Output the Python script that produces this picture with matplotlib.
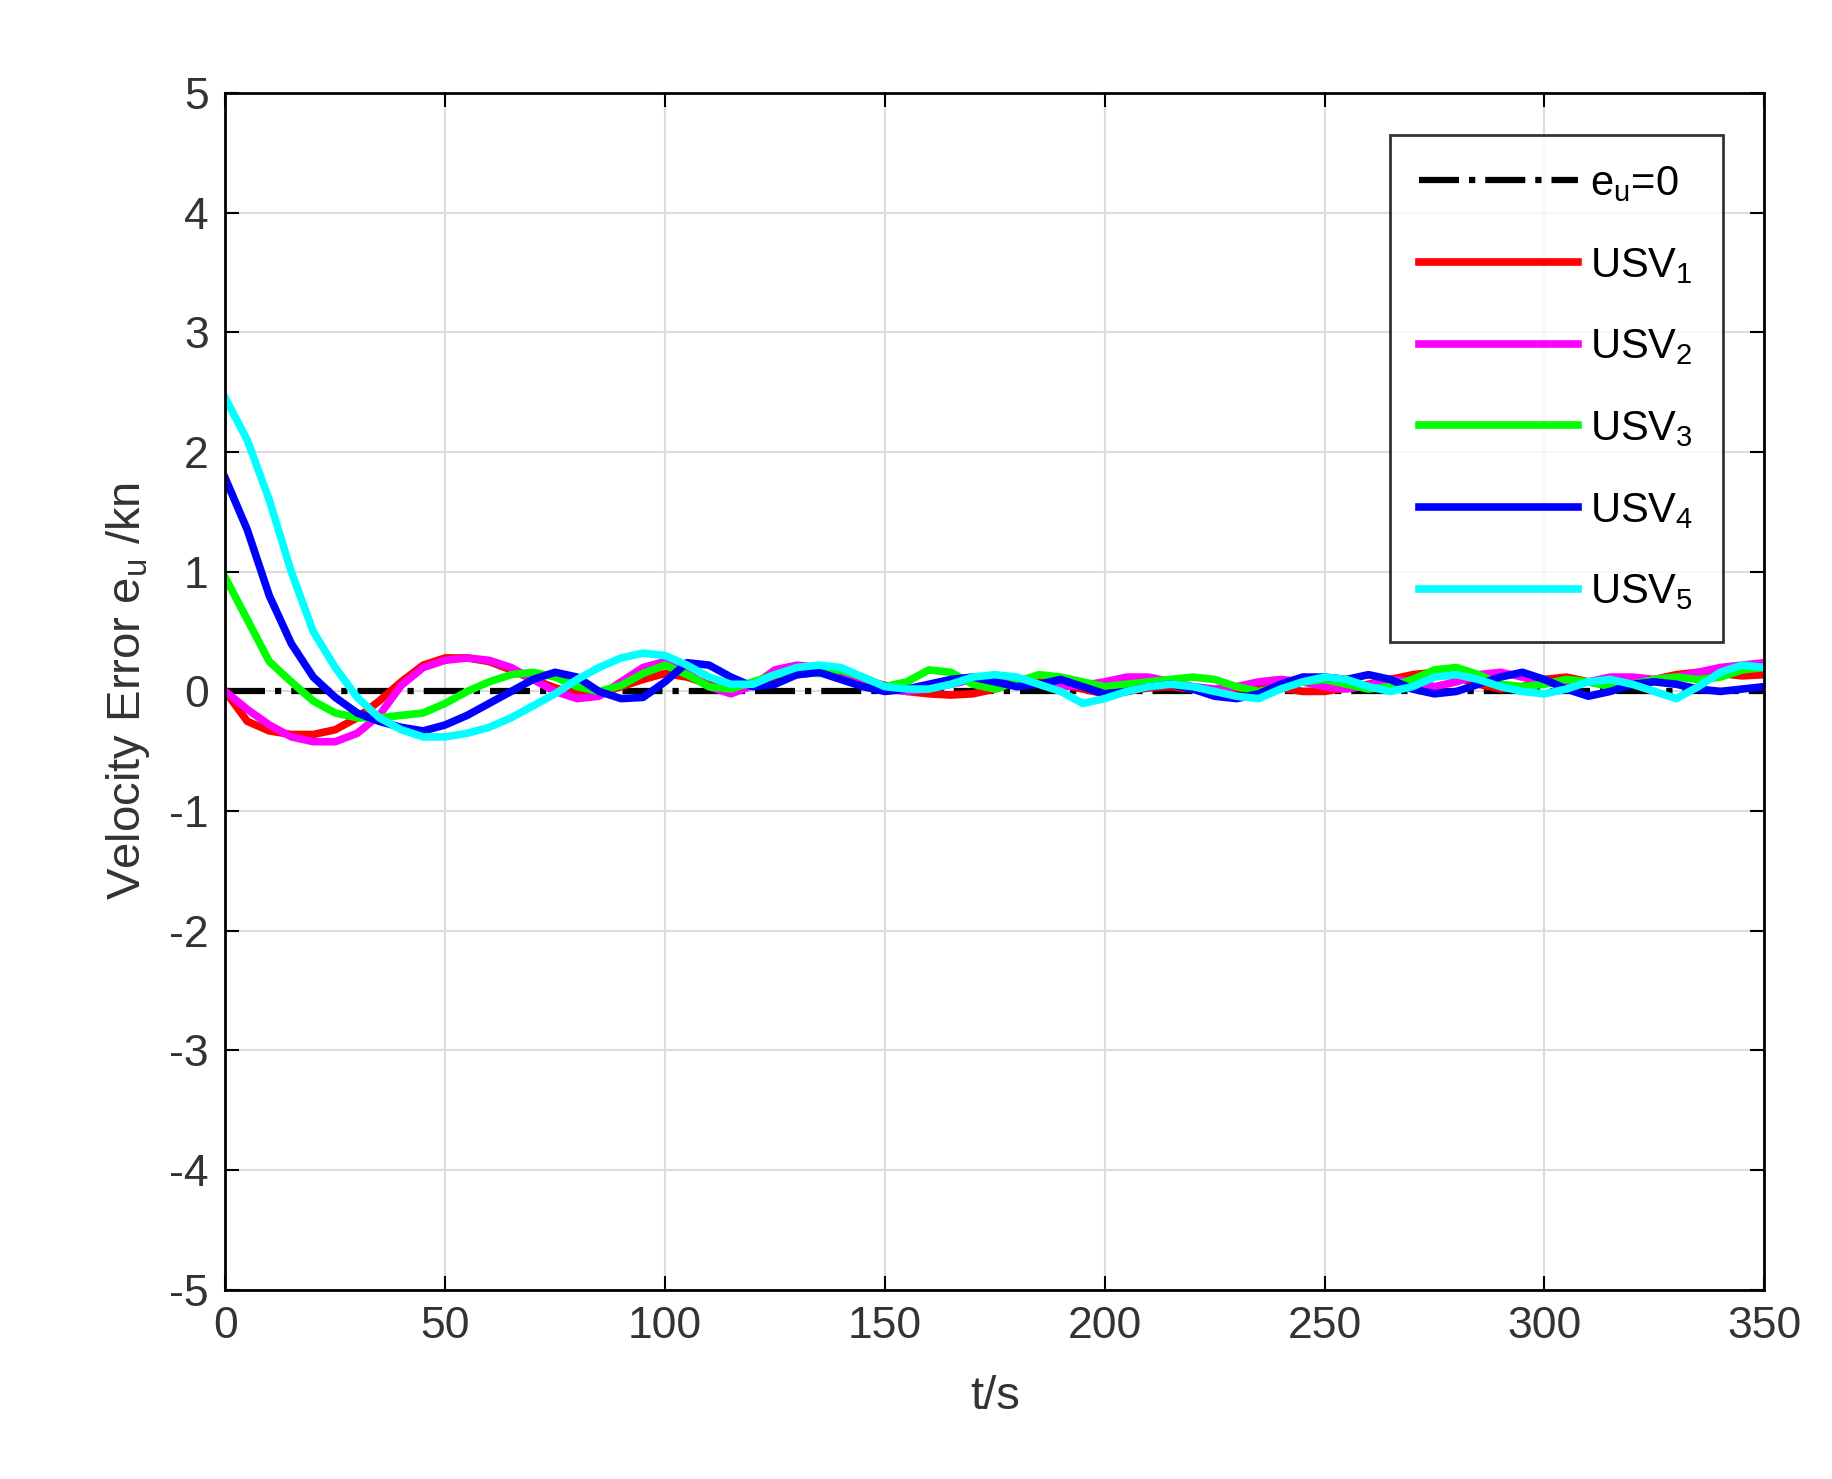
import numpy as np
import matplotlib.pyplot as plt

plt.rcParams['font.family'] = ['Liberation Sans', 'DejaVu Sans']
plt.rcParams['axes.unicode_minus'] = False
plt.rcParams['mathtext.default'] = 'regular'

t = np.arange(0, 351, 5)
usv1 = [0, -0.25, -0.33, -0.36, -0.36, -0.32, -0.22, -0.08, 0.08, 0.22,
        0.28, 0.28, 0.25, 0.18, 0.1, 0.03, -0.02, -0.02, 0.04, 0.1,
        0.15, 0.12, 0.06, 0.03, 0.05, 0.1, 0.14, 0.16, 0.14, 0.1,
        0.05, 0.0, -0.02, -0.03, -0.02, 0.02, 0.08, 0.1, 0.06, 0.02,
        -0.02, 0.0, 0.03, 0.04, 0.02, 0.0, 0.02, 0.04, 0.03, 0.0,
        0.0, 0.03, 0.06, 0.1, 0.14, 0.16, 0.12, 0.06, 0.02, 0.04,
        0.1, 0.12, 0.08, 0.05, 0.06, 0.1, 0.14, 0.16, 0.15, 0.13,
        0.14]
usv2 = [0, -0.15, -0.28, -0.38, -0.42, -0.42, -0.35, -0.2, 0.05, 0.2,
        0.26, 0.28, 0.26, 0.2, 0.1, 0.0, -0.06, -0.04, 0.08, 0.2,
        0.25, 0.15, 0.04, -0.02, 0.05, 0.18, 0.22, 0.2, 0.14, 0.08,
        0.02, 0.0, 0.02, 0.06, 0.1, 0.12, 0.1, 0.06, 0.04, 0.05,
        0.08, 0.12, 0.12, 0.08, 0.04, 0.02, 0.04, 0.08, 0.1, 0.08,
        0.04, 0.02, 0.05, 0.1, 0.08, 0.04, 0.08, 0.14, 0.16, 0.12,
        0.08, 0.06, 0.08, 0.12, 0.12, 0.1, 0.12, 0.16, 0.2, 0.22,
        0.24]
usv3 = [0.95, 0.6, 0.25, 0.08, -0.08, -0.18, -0.22, -0.22, -0.2, -0.18,
        -0.1, 0.0, 0.08, 0.14, 0.16, 0.12, 0.04, 0.0, 0.05, 0.15,
        0.22, 0.14, 0.04, 0.02, 0.08, 0.14, 0.16, 0.15, 0.18, 0.12,
        0.04, 0.08, 0.18, 0.16, 0.06, 0.02, 0.08, 0.14, 0.12, 0.08,
        0.04, 0.06, 0.08, 0.1, 0.12, 0.1, 0.04, 0.0, 0.04, 0.08,
        0.1, 0.06, 0.02, 0.04, 0.1, 0.18, 0.2, 0.14, 0.06, 0.04,
        0.06, 0.1, 0.08, 0.04, 0.06, 0.1, 0.12, 0.1, 0.12, 0.18,
        0.2]
usv4 = [1.78, 1.35, 0.8, 0.4, 0.12, -0.05, -0.18, -0.25, -0.3, -0.33,
        -0.28, -0.2, -0.1, 0.0, 0.1, 0.16, 0.12, 0.0, -0.06, -0.05,
        0.08, 0.24, 0.22, 0.12, 0.04, 0.06, 0.14, 0.16, 0.1, 0.04,
        0.0, 0.02, 0.06, 0.1, 0.12, 0.08, 0.04, 0.06, 0.1, 0.04,
        -0.02, 0.0, 0.04, 0.06, 0.02, -0.04, -0.06, -0.02, 0.06, 0.12,
        0.12, 0.1, 0.14, 0.1, 0.02, -0.02, 0.0, 0.06, 0.12, 0.16,
        0.1, 0.02, -0.04, 0.0, 0.06, 0.08, 0.06, 0.02, 0.0, 0.02,
        0.04]
usv5 = [2.45, 2.1, 1.6, 1.0, 0.5, 0.2, -0.05, -0.22, -0.32, -0.38,
        -0.38, -0.35, -0.3, -0.22, -0.12, -0.02, 0.1, 0.2, 0.28, 0.32,
        0.3, 0.22, 0.12, 0.06, 0.06, 0.14, 0.2, 0.22, 0.2, 0.12,
        0.04, 0.02, 0.02, 0.06, 0.12, 0.14, 0.12, 0.06, 0.0, -0.1,
        -0.06, 0.0, 0.04, 0.06, 0.04, 0.0, -0.04, -0.06, 0.02, 0.08,
        0.12, 0.1, 0.04, 0.0, 0.04, 0.12, 0.14, 0.1, 0.04, 0.0,
        -0.02, 0.02, 0.08, 0.1, 0.06, 0.0, -0.06, 0.04, 0.16, 0.22,
        0.2]

series = [usv1, usv2, usv3, usv4, usv5]
colors = ['#ff0000', '#ff00ff', '#00ff00', '#0000ff', '#00ffff']

fig = plt.figure(figsize=(18.32, 14.79), dpi=100)
ax = fig.add_axes([0.123, 0.128, 0.84, 0.809])
ax.plot([0, 350], [0, 0], color='black', linestyle='-.', linewidth=4.5, label=r'e$_u$=0')
for i, (s, c) in enumerate(zip(series, colors)):
    ax.plot(t, s, color=c, linewidth=5.5, label=f'USV$_{i+1}$')

ax.set_xlim(0, 350)
ax.set_ylim(-5, 5)
ax.set_xticks(np.arange(0, 351, 50))
ax.set_yticks(np.arange(-5, 6, 1))
ax.grid(True, color='#dcdcdc', linewidth=1.5)
ax.tick_params(labelsize=32, direction='in', length=10, width=1.5, top=True, right=True,
               pad=12, labelcolor='#333333')
for sp in ax.spines.values():
    sp.set_linewidth(2)
ax.set_xlabel('t/s', fontsize=34, color='#333333', labelpad=20)
ax.set_ylabel(r'Velocity Error e$_u$ /kn', fontsize=34, color='#333333', labelpad=12)
leg = ax.legend(loc='upper right', fontsize=30, frameon=True, fancybox=False,
                handlelength=3.8, handletextpad=0.3, borderaxespad=1.0,
                labelspacing=1.0, borderpad=0.7)
leg.get_frame().set_edgecolor('black')
leg.get_frame().set_linewidth(2)
fig.savefig('out.png', dpi=100, facecolor='white')
